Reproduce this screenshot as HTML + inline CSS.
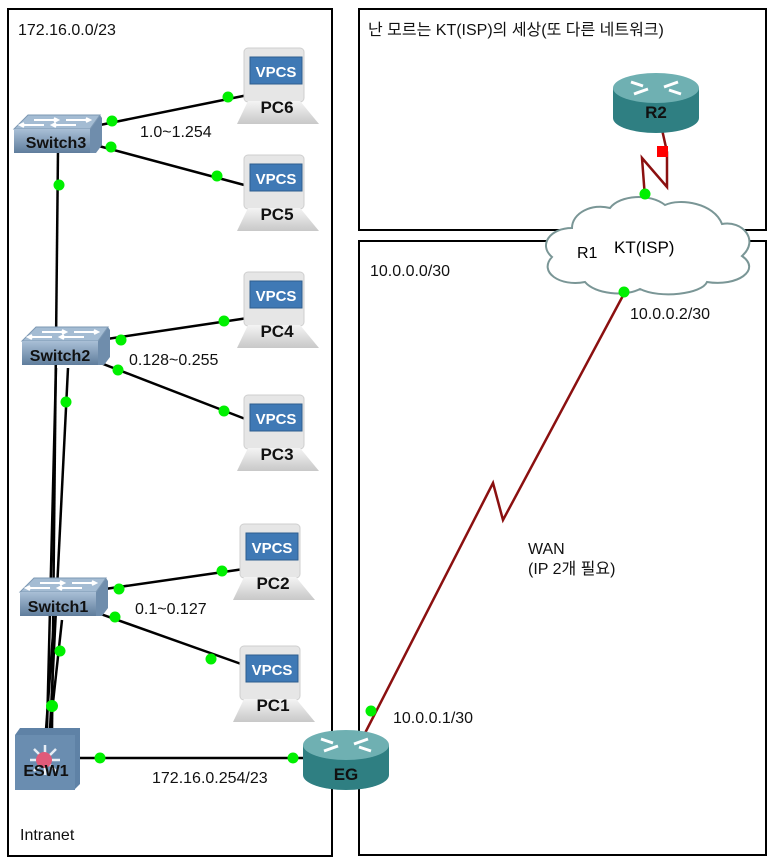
<!DOCTYPE html>
<html><head><meta charset="utf-8"><style>
html,body{margin:0;padding:0;background:#fff;}
svg{display:block;}
text{font-family:"Liberation Sans","Noto Sans CJK KR",sans-serif;}
</style></head><body>
<svg width="773" height="860" viewBox="0 0 773 860" xmlns="http://www.w3.org/2000/svg">
<defs>
<linearGradient id="sw" x1="0" y1="0" x2="0" y2="1"><stop offset="0" stop-color="#a9bfd6"/><stop offset="1" stop-color="#5f7d9c"/></linearGradient>
<linearGradient id="pcb" x1="0" y1="0" x2="0" y2="1"><stop offset="0" stop-color="#f4f4f4"/><stop offset="1" stop-color="#c8c8c8"/></linearGradient>
<g id="pc">
<rect x="0" y="0" width="60" height="54" rx="4" fill="#e6e6e6" stroke="#cfcfcf"/>
<rect x="6" y="9" width="52" height="27" fill="#3f79b5" stroke="#2d5d8e"/>
<text x="32" y="29" font-size="15" font-weight="bold" fill="#fff" text-anchor="middle">VPCS</text>
<path d="M4 53 H56 L75 76 H-7 Z" fill="url(#pcb)"/>
</g>
<g id="swi">
<path d="M14 0 H86 L88 3 V30 L82 38 H0 V14 Z" fill="#6f8dac"/>
<path d="M14 0 H86 L76 14 H0 Z" fill="#a4bcd3" stroke="#7d98b3"/>
<path d="M20 5 h22 M40 3 l4 2 l-4 2 M30 10 h-22 M10 8 l-4 2 l4 2 M52 5 h22 M72 3 l4 2 l-4 2 M62 10 h-22 M42 8 l-4 2 l4 2" stroke="#fff" stroke-width="2" fill="none"/>
<rect x="0" y="14" width="76" height="24" fill="url(#sw)"/>
</g>
<g id="rtr">
<path d="M-43 0 V30 A43 15 0 0 0 43 30 V0 Z" fill="#2f7f82"/>
<ellipse cx="0" cy="0" rx="43" ry="15" fill="#6fb0b2"/>
<path d="M-25 -6 l12 4 M-22 6 l14 -5 M25 6 l-12 -4 M22 -6 l-14 5" stroke="#fff" stroke-width="3"/>
</g>
</defs>
<g fill="none" stroke="#000" stroke-width="2">
<rect x="8" y="9" width="324" height="847"/>
<rect x="359" y="9" width="407" height="221"/>
<rect x="359" y="241" width="407" height="614"/>
</g>
<g stroke="#000" stroke-width="2.5" fill="none">
<line x1="100" y1="125" x2="248" y2="95"/>
<line x1="95" y1="145" x2="248" y2="186"/>
<line x1="100" y1="340" x2="248" y2="318"/>
<line x1="98" y1="362" x2="248" y2="420"/>
<line x1="98" y1="590" x2="244" y2="569"/>
<line x1="95" y1="612" x2="244" y2="665"/>
<line x1="58" y1="150" x2="52" y2="730"/>
<line x1="68" y1="368" x2="50" y2="730"/>
<line x1="56" y1="368" x2="47" y2="730"/>
<line x1="62" y1="620" x2="50" y2="730"/>
<line x1="54" y1="620" x2="46" y2="730"/>
<line x1="80" y1="758" x2="305" y2="758"/>
</g>
<polyline points="363,737 493,483 503,520 626,290" fill="none" stroke="#8b1010" stroke-width="2.5"/>
<polyline points="661,125 667,152 667,187 642,158 645,198" fill="none" stroke="#8b1010" stroke-width="2.5"/>
<path d="M572 228 C550 228 538 245 552 257 C538 272 560 287 585 282 C595 294 625 297 640 289 C660 299 702 294 707 282 C737 287 762 270 742 256 C760 240 742 220 722 224 C714 203 680 198 665 205 C650 193 620 195 610 208 C592 203 572 213 572 228 Z" fill="#fff" stroke="#7a9696" stroke-width="2"/>
<text x="577" y="258" font-size="16">R1</text>
<text x="614" y="253" font-size="17">KT(ISP)</text>
<use href="#swi" x="14" y="115"/><text x="56" y="148" font-size="16" font-weight="bold" text-anchor="middle" fill="#111">Switch3</text>
<use href="#swi" x="22" y="327"/><text x="60" y="361" font-size="16" font-weight="bold" text-anchor="middle" fill="#111">Switch2</text>
<use href="#swi" x="20" y="578"/><text x="58" y="612" font-size="16" font-weight="bold" text-anchor="middle" fill="#111">Switch1</text>
<g>
<path d="M15 735 L20 728 H80 V784 L74 790 H15 Z" fill="#5f82a6"/>
<rect x="15" y="735" width="60" height="55" fill="#6a8db0"/>
<path d="M45 745 V775 M30 760 H60 M34 749 L56 771 M56 749 L34 771" stroke="#e8eef5" stroke-width="2.5"/>
<circle cx="44" cy="760" r="8" fill="#e05a7a"/>
<text x="46" y="776" font-size="16" font-weight="bold" text-anchor="middle" fill="#111">ESW1</text>
</g>
<use href="#rtr" x="346" y="745"/><text x="346" y="780" font-size="17" font-weight="bold" text-anchor="middle" fill="#111">EG</text>
<use href="#rtr" x="656" y="88"/><text x="656" y="118" font-size="17" font-weight="bold" text-anchor="middle" fill="#111">R2</text>
<use href="#pc" x="244" y="48"/><text x="277" y="113" font-size="17" font-weight="bold" text-anchor="middle" fill="#111">PC6</text>
<use href="#pc" x="244" y="155"/><text x="277" y="220" font-size="17" font-weight="bold" text-anchor="middle" fill="#111">PC5</text>
<use href="#pc" x="244" y="272"/><text x="277" y="337" font-size="17" font-weight="bold" text-anchor="middle" fill="#111">PC4</text>
<use href="#pc" x="244" y="395"/><text x="277" y="460" font-size="17" font-weight="bold" text-anchor="middle" fill="#111">PC3</text>
<use href="#pc" x="240" y="524"/><text x="273" y="589" font-size="17" font-weight="bold" text-anchor="middle" fill="#111">PC2</text>
<use href="#pc" x="240" y="646"/><text x="273" y="711" font-size="17" font-weight="bold" text-anchor="middle" fill="#111">PC1</text>
<rect x="657" y="146" width="11" height="11" fill="#f00"/>
<g fill="#00f000">
<circle cx="112" cy="121" r="5.5"/><circle cx="228" cy="97" r="5.5"/>
<circle cx="111" cy="147" r="5.5"/><circle cx="217" cy="176" r="5.5"/>
<circle cx="59" cy="185" r="5.5"/>
<circle cx="121" cy="340" r="5.5"/><circle cx="224" cy="321" r="5.5"/>
<circle cx="118" cy="370" r="5.5"/><circle cx="224" cy="411" r="5.5"/>
<circle cx="66" cy="402" r="5.5"/>
<circle cx="119" cy="589" r="5.5"/><circle cx="222" cy="571" r="5.5"/>
<circle cx="115" cy="617" r="5.5"/><circle cx="211" cy="659" r="5.5"/>
<circle cx="60" cy="651" r="5.5"/><circle cx="52" cy="706" r="6"/>
<circle cx="100" cy="758" r="5.5"/><circle cx="293" cy="758" r="5.5"/>
<circle cx="371" cy="711" r="5.5"/><circle cx="624" cy="292" r="5.5"/>
<circle cx="645" cy="194" r="5.5"/>
</g>
<g font-size="16" fill="#111">
<text x="18" y="35">172.16.0.0/23</text>
<text x="140" y="137">1.0~1.254</text>
<text x="129" y="365">0.128~0.255</text>
<text x="135" y="614">0.1~0.127</text>
<text x="152" y="783">172.16.0.254/23</text>
<text x="20" y="840">Intranet</text>
<text x="368" y="35">난 모르는 KT(ISP)의 세상(또 다른 네트워크)</text>
<text x="370" y="276">10.0.0.0/30</text>
<text x="630" y="319">10.0.0.2/30</text>
<text x="393" y="723">10.0.0.1/30</text>
<text x="528" y="554">WAN</text>
<text x="528" y="574">(IP 2개 필요)</text>
</g>
</svg>
</body></html>
